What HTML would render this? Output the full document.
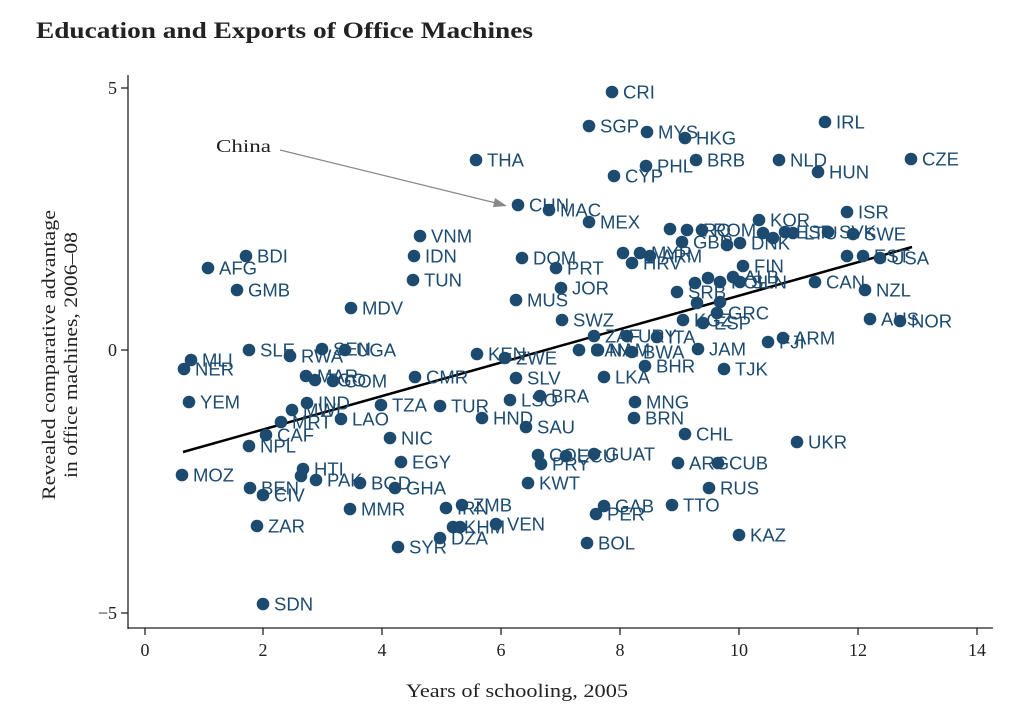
<!DOCTYPE html>
<html><head><meta charset="utf-8"><style>
body{margin:0;background:#fff}
svg{display:block}
.s{font-family:"Liberation Serif",serif;fill:#222}
.l{font-family:"Liberation Sans",sans-serif;font-size:18.5px;fill:#1d4b70}
</style></head><body>
<svg width="1033" height="721" viewBox="0 0 1033 721" xmlns="http://www.w3.org/2000/svg">
<text x="36" y="38" class="s" font-size="23" font-weight="bold" textLength="497" lengthAdjust="spacingAndGlyphs">Education and Exports of Office Machines</text>
<g stroke="#222" stroke-width="1.3" fill="none">
<line x1="128" y1="75" x2="128" y2="629"/>
<line x1="128" y1="628" x2="993" y2="628"/>
<line x1="121" y1="88" x2="128" y2="88"/><line x1="121" y1="350" x2="128" y2="350"/><line x1="121" y1="613" x2="128" y2="613"/>
<line x1="145" y1="628" x2="145" y2="635"/><line x1="263" y1="628" x2="263" y2="635"/><line x1="382" y1="628" x2="382" y2="635"/><line x1="501" y1="628" x2="501" y2="635"/><line x1="620" y1="628" x2="620" y2="635"/><line x1="739" y1="628" x2="739" y2="635"/><line x1="858" y1="628" x2="858" y2="635"/><line x1="977" y1="628" x2="977" y2="635"/>
</g>
<g class="s" font-size="18" text-anchor="end">
<text x="117" y="94">5</text><text x="117" y="356">0</text><text x="117" y="619">−5</text></g>
<g class="s" font-size="18" text-anchor="middle">
<text x="145" y="656">0</text><text x="263" y="656">2</text><text x="382" y="656">4</text><text x="501" y="656">6</text><text x="620" y="656">8</text><text x="739" y="656">10</text><text x="858" y="656">12</text><text x="977" y="656">14</text>
</g>
<text x="406" y="697" class="s" font-size="19" textLength="222" lengthAdjust="spacingAndGlyphs">Years of schooling, 2005</text>
<text transform="translate(55,500) rotate(-90)" class="s" font-size="19" textLength="290" lengthAdjust="spacingAndGlyphs">Revealed comparative advantage</text>
<text transform="translate(77,478) rotate(-90)" class="s" font-size="19" textLength="246" lengthAdjust="spacingAndGlyphs">in office machines, 2006–08</text>
<text x="216" y="152" class="s" font-size="18" textLength="55" lengthAdjust="spacingAndGlyphs">China</text>
<line x1="280" y1="150" x2="500" y2="204" stroke="#888" stroke-width="1.2"/>
<polygon points="507,206 495,198 493,207" fill="#888"/>
<line x1="183" y1="452" x2="912" y2="247" stroke="#000" stroke-width="2.5"/>
<g id="pts"></g>
</svg>
<script>
var d=[[612,92,"CRI"],[589,126,"SGP"],[647,132,"MYS"],[685,138,"HKG"],[825,122,"IRL"],[476,160,"THA"],[696,160,"BRB"],[779,160,"NLD"],[818,172,"HUN"],[911,159,"CZE"],[646,166,"PHL"],[614,176,"CYP"],[518,205,"CHN"],[549,210,"MAC"],[589,222,"MEX"],[420,236,"VNM"],[246,256,"BDI"],[414,256,"IDN"],[522,258,"DOM"],[556,268,"PRT"],[208,268,"AFG"],[413,280,"TUN"],[237,290,"GMB"],[561,288,"JOR"],[516,300,"MUS"],[351,308,"MDV"],
[847,212,"ISR"],[759,220,"KOR"],[670,229,""],[687,230,"IRQ"],[702,230,"ROM"],[682,242,"GBR"],[727,245,""],[740,243,"DNK"],[763,233,""],[773,238,""],[785,232,"ESP"],[793,233,"LTU"],[828,232,"SVK"],[853,234,"SWE"],[623,253,""],[640,253,"MYR"],[650,256,"ARM"],[632,263,"HRV"],[743,266,"FIN"],[847,256,""],[863,256,"EST"],[880,258,"USA"],[815,282,"CAN"],[865,290,"NZL"],[677,292,"SRB"],[695,283,""],[708,278,""],[720,282,"POL"],[733,277,"ALB"],[740,282,"SLN"],[697,303,""],[717,313,"GRC"],[720,302,""],[703,323,"ESP"],[683,320,"KGZ"],[870,319,"AUS"],[900,321,"NOR"],[783,338,"ARM"],[768,342,"FJI"],
[562,320,"SWZ"],[594,336,"ZAF"],[627,336,"URY"],[657,337,"ITA"],[698,349,"JAM"],[632,352,"BWA"],[579,350,"GAN"],[598,350,"NAM"],[645,366,"BHR"],[724,369,"TJK"],[604,377,"LKA"],[635,402,"MNG"],[634,418,"BRN"],[685,434,"CHL"],[678,463,"ARG"],[718,463,"CUB"],[709,488,"RUS"],[672,505,"TTO"],[604,506,"GAB"],[596,514,"PER"],[587,543,"BOL"],[739,535,"KAZ"],[797,442,"UKR"],
[477,354,"KEN"],[505,358,"ZWE"],[516,378,"SLV"],[510,400,"LSO"],[540,396,"BRA"],[440,406,"TUR"],[482,418,"HND"],[526,427,"SAU"],[538,455,"COL"],[566,456,"ECU"],[594,454,"GUAT"],[541,464,"PRY"],[528,483,"KWT"],[462,505,"ZMB"],[446,508,"IRN"],[496,524,"VEN"],[453,527,"KHM"],[460,527,""],[440,538,"DZA"],[398,547,"SYR"],[415,377,"CMR"],[381,405,"TZA"],[390,438,"NIC"],[401,462,"EGY"],[395,488,"GHA"],[360,483,"BGD"],[350,509,"MMR"],
[249,350,"SLE"],[322,349,"SEN"],[345,350,"UGA"],[290,356,"RWA"],[191,360,"MLI"],[184,369,"NER"],[306,376,"MAR"],[315,380,"TGO"],[333,381,"COM"],[189,402,"YEM"],[307,403,"IND"],[292,410,"MWI"],[281,422,"MRT"],[341,419,"LAO"],[266,435,"CAF"],[249,446,"NPL"],[182,475,"MOZ"],[303,469,"HTI"],[301,476,""],[316,480,"PAK"],[250,488,"BEN"],[263,495,"CIV"],[257,526,"ZAR"],[263,604,"SDN"]];
var g=document.getElementById("pts"),h="";
d.forEach(function(p){h+='<circle cx="'+p[0]+'" cy="'+p[1]+'" r="6.3" fill="#1d4b70"/>';if(p[2])h+='<text class="l" x="'+(p[0]+11)+'" y="'+(p[1]+6.5)+'">'+p[2]+'</text>';});
g.innerHTML=h;
</script>
</body></html>
